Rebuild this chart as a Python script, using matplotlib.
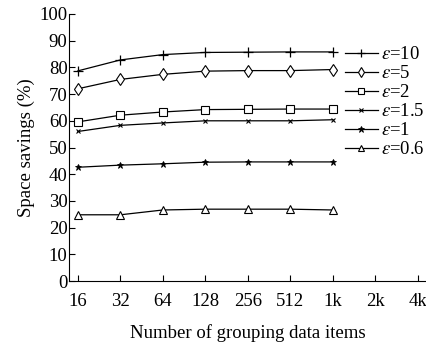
import matplotlib
matplotlib.use("Agg")
import matplotlib.pyplot as plt
from matplotlib.lines import Line2D

plt.rcParams['font.family'] = ['Liberation Serif', 'DejaVu Serif']
plt.rcParams['mathtext.fontset'] = 'stix'

x_labels = ["16", "32", "64", "128", "256", "512", "1k", "2k", "4k"]
n_points = 7
eps10 = [78.7, 82.8, 84.8, 85.6, 85.7, 85.8, 85.8]
eps5 = [72.0, 75.5, 77.4, 78.6, 78.8, 78.8, 79.2]
eps2 = [59.6, 62.1, 63.3, 64.2, 64.3, 64.4, 64.4]
eps15 = [56.0, 58.3, 59.2, 60.0, 60.0, 60.0, 60.4]
eps1 = [42.6, 43.4, 43.9, 44.5, 44.6, 44.6, 44.6]
eps06 = [24.8, 24.8, 26.6, 26.9, 26.9, 26.9, 26.6]
labels = [r"$\varepsilon$=10", r"$\varepsilon$=5", r"$\varepsilon$=2",
          r"$\varepsilon$=1.5", r"$\varepsilon$=1", r"$\varepsilon$=0.6"]

series = [eps10, eps5, eps2, eps15, eps1, eps06]
styles = [
    dict(marker='+', ms=7, mew=0.9, mfc='none'),
    dict(marker='d', ms=6.5, mew=0.8, mfc='white'),
    dict(marker='s', ms=5.5, mew=0.8, mfc='white'),
    dict(marker='x', ms=3, mew=0.8),
    dict(marker='*', ms=5, mew=0.6),
    dict(marker='^', ms=6, mew=0.8, mfc='white'),
]
leg_ms = [6, 5, 4.5, 3, 4.5, 5]

fig = plt.figure(figsize=(4.26, 3.47), dpi=100)
ax = fig.add_axes([69/426, 1 - 281/347, (426 - 69)/426, (281 - 14)/347])

xs = list(range(n_points))
for ys, st in zip(series, styles):
    ax.plot(xs, ys, color='black', lw=0.9, mec='black', **st)

ax.set_xlim(-0.21, 8.19)
ax.set_ylim(0, 100)
ax.set_xticks(range(len(x_labels)))
ax.set_xticklabels(x_labels)
ax.set_yticks(range(0, 101, 10))
ax.tick_params(direction='in', length=4, width=0.8, labelsize=13.5)
ax.tick_params(axis='x', pad=9)
ax.tick_params(axis='y', pad=1)
ax.spines['top'].set_visible(False)
ax.spines['right'].set_visible(False)
for s in ['left', 'bottom']:
    ax.spines[s].set_linewidth(0.8)
ax.set_ylabel("Space savings (%)", fontsize=13.5, labelpad=3)
ax.set_xlabel("Number of grouping data items", fontsize=13.5, labelpad=10)

# legend
handles = []
for st, m in zip(styles, leg_ms):
    d = dict(st)
    d['ms'] = m
    handles.append(Line2D([0], [0], color='black', lw=0.9, mec='black', **d))
leg = ax.legend(handles, labels, loc='upper left', bbox_to_anchor=(276/357, 1 - 32/267),
                frameon=False, fontsize=13.5, handlelength=1.75, handletextpad=0.15,
                labelspacing=0.1, borderaxespad=0, borderpad=0)

fig.savefig("out.png", dpi=100)
